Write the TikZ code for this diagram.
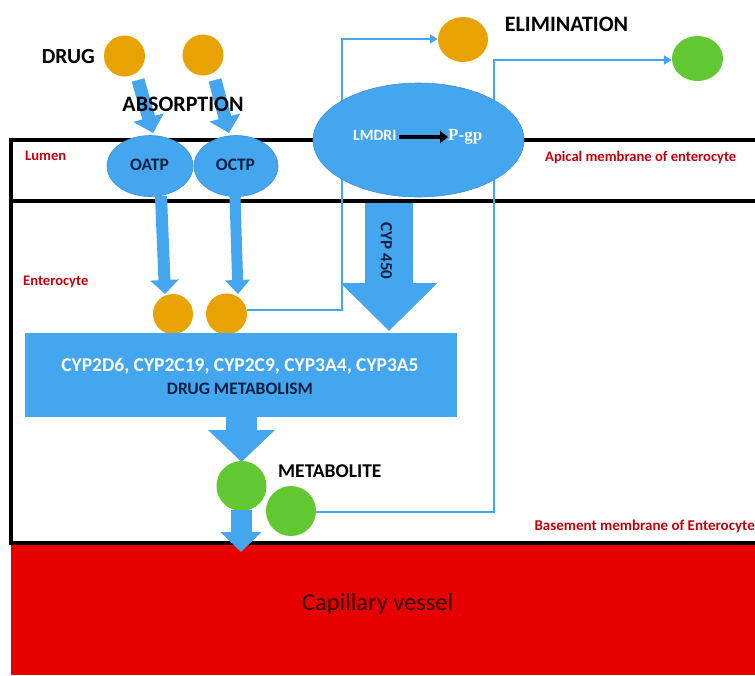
\documentclass[tikz,border=0pt]{standalone}
\usepackage{fontspec}
\setmainfont{Carlito}
\newfontfamily\serifb{Liberation Serif}
\usetikzlibrary{arrows.meta,calc,shapes.geometric}
\definecolor{cblue}{HTML}{45A6F0}
\definecolor{cedge}{HTML}{3A90D6}
\definecolor{corange}{HTML}{E8A202}
\definecolor{cgreen}{HTML}{62C832}
\definecolor{cnavy}{HTML}{0B1F3F}
\definecolor{cred}{HTML}{E60000}
\definecolor{clabel}{HTML}{C8000A}
\begin{document}
\begin{tikzpicture}[x=1pt,y=-1pt,
  drugc/.style={circle,fill=corange,draw=none,minimum size=41pt,inner sep=0},
  metc/.style={circle,fill=cgreen,draw=none,minimum size=50pt,inner sep=0},
  transp/.style={ellipse,fill=cblue,draw=cedge,line width=0.6pt,inner sep=0,text=cnavy},
  tlbl/.style={font=\bfseries\fontsize{17.5}{19}\selectfont,text=cnavy,inner sep=0},
  bigtxt/.style={font=\bfseries\fontsize{22}{24}\selectfont,text=black,inner sep=0},
  redlbl/.style={font=\bfseries\fontsize{14.6}{16}\selectfont,text=clabel,inner sep=0},
  thinflow/.style={draw=cblue,line width=2.5pt,-{Triangle[width=9pt,length=8pt]}},
  fatarrow/.style={draw=cblue,line width=#1},
]
\useasboundingbox (0,0) rectangle (755,675);
% capillary vessel
\fill[cred] (11,543) rectangle (755,675);
\node[font=\fontsize{24.4}{26}\selectfont,text=black!80!red,inner sep=0,anchor=west] (cap) at (302,604) {Capillary vessel};
% frame
\draw[line width=3.5pt] (755,140) -- (11,140) -- (11,543) -- (755,543);
\draw[line width=3.5pt] (11,201) -- (755,201);
% red labels
\node[redlbl,anchor=west] (lumen) at (25,156) {Lumen};
\node[redlbl,anchor=west] (entero) at (23,282) {Enterocyte};
\node[redlbl,anchor=west] (apical) at (545,157.5) {Apical membrane of enterocyte};
\node[redlbl,font=\bfseries\fontsize{15}{16}\selectfont,anchor=east] (basement) at (755,526) {Basement membrane of Enterocyte};
% top drugs
\node[drugc] (d1) at (124.5,56) {};
\node[drugc] (d2) at (203,55) {};
\node[bigtxt,font=\bfseries\fontsize{21.5}{23}\selectfont,anchor=east] (drug) at (95,57) {DRUG};
% eliminated
\node[ellipse,fill=corange,minimum width=50pt,minimum height=45pt,inner sep=0] (oe) at (463,39.5) {};
\node[ellipse,fill=cgreen,minimum width=51pt,minimum height=45pt,inner sep=0] (ge) at (697.5,58.5) {};
\node[bigtxt] (elim) at (566.5,24) {ELIMINATION};
% enterocyte drugs
\node[drugc,minimum size=40pt] (e1) at (173,314) {};
\node[drugc] (e2) at (226.5,314) {};
% metabolites
\node[metc] (m1) at (241.5,486) {};
\node[metc] (m2) at (291,511) {};
\node[bigtxt,font=\bfseries\fontsize{19.5}{21}\selectfont,anchor=west] (metab) at (278,471) {METABOLITE};
% elimination flow lines
\coordinate (c1) at (342,310);
\coordinate (c2) at (342,39);
\coordinate (c3) at (494,512);
\coordinate (c4) at (494,60);
\draw[thinflow] (e2.east |- c1) -- (c1) -- (c2) -- (oe.west |- c2);
\draw[thinflow] (m2.east |- c3) -- (c3) -- (c4) -- (ge.west |- c4);
% absorption arrows
\coordinate (a1s) at (138,80);
\coordinate (a1t) at (153,133);
\coordinate (a2s) at (215,80);
\coordinate (a2t) at (229,133);
\draw[fatarrow=13pt,-{Triangle[width=31pt,length=16pt]}] (a1s) -- (a1t);
\draw[fatarrow=13pt,-{Triangle[width=31pt,length=16pt]}] (a2s) -- (a2t);
\node[bigtxt] (absorp) at (183,104) {ABSORPTION};
% transporters
\node[transp,minimum width=86pt,minimum height=61pt] (oatp) at (150,166) {};
\node[transp,minimum width=84pt,minimum height=61pt] (octp) at (236,166) {};
\node[tlbl] (oatpt) at (149.5,164.5) {OATP};
\node[tlbl] (octpt) at (235.5,165) {OCTP};
% LMDRI ellipse
\node[ellipse,fill=cblue,draw=cedge,line width=0.6pt,minimum width=211pt,minimum height=114pt,inner sep=0] (pgpell) at (418.5,140) {};
\node[font=\bfseries\fontsize{15.7}{17}\selectfont,text=white,inner sep=0,anchor=west] (lmdri) at (353,135.5) {LMDRI};
\node[font=\serifb\bfseries\fontsize{17}{19}\selectfont,text=white,inner sep=0,anchor=west] (pgp) at (448,137) {P-gp};
\draw[line width=4.5pt,-{Triangle[width=12pt,length=8pt]}] (lmdri.east |- pgp.west) ++(2,0) -- (pgp.west);
% arrows into enterocyte drugs
\coordinate (b1s) at (161,196);
\coordinate (b1t) at (165,294);
\coordinate (b2s) at (235,196);
\coordinate (b2t) at (238,294);
\draw[fatarrow=12pt,-{Triangle[width=28pt,length=14pt]}] (b1s) -- (b1t);
\draw[fatarrow=11pt,-{Triangle[width=24pt,length=14pt]}] (b2s) -- (b2t);
% CYP 450 arrow
\coordinate (cyps) at (389,203);
\coordinate (cypt) at (389,331);
\draw[fatarrow=48pt,-{Triangle[width=94pt,length=48pt]}] (cyps) -- (cypt);
\node[font=\bfseries\fontsize{17}{19}\selectfont,text=cnavy,rotate=-90,inner sep=0] (cyp) at (386.5,251) {CYP 450};
% metabolism box
\node[fill=cblue,draw=none,minimum width=432pt,minimum height=84pt,inner sep=0] (box) at (241,375) {};
\node[font=\bfseries\fontsize{19.5}{21}\selectfont,text=white,inner sep=0] (cyps2) at (240,366) {CYP2D6, CYP2C19, CYP2C9, CYP3A4, CYP3A5};
\node[font=\bfseries\fontsize{17.5}{19}\selectfont,text=cnavy,inner sep=0] (dm) at (240,389) {DRUG METABOLISM};
% arrow from box to metabolite
\coordinate (mt) at (241.5,462);
\draw[fatarrow=31pt,-{Triangle[width=65pt,length=32pt]}] (box.south -| mt) -- (mt);
% small arrow into capillary
\coordinate (st) at (241,552);
\draw[fatarrow=21pt,-{Triangle[width=40pt,length=20pt]}] (m1.south -| st) ++(0,-1) -- (st);
\end{tikzpicture}
\end{document}
